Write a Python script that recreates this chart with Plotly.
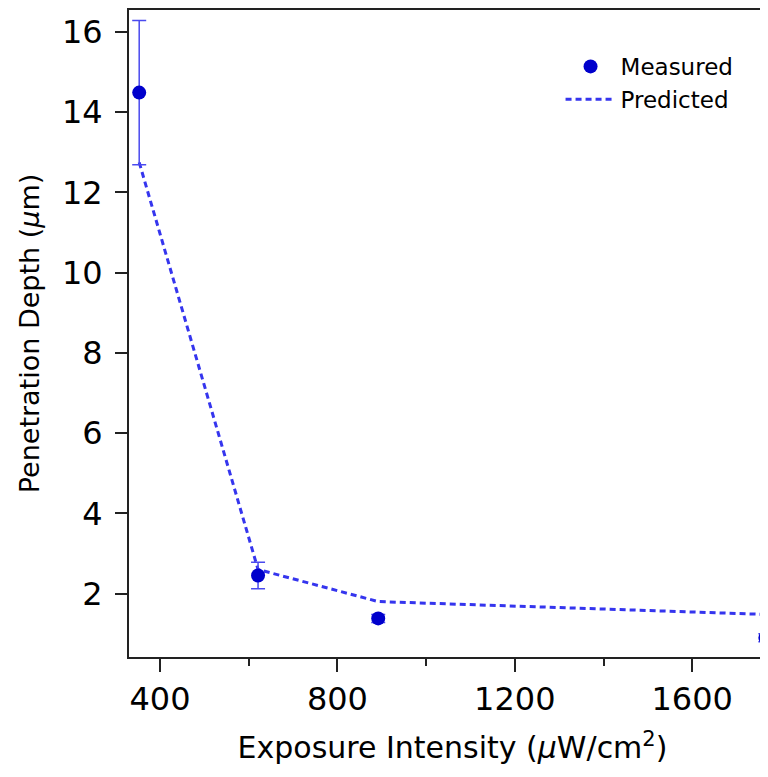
import plotly.graph_objects as go

# Measured data
meas_x = [353, 621, 892, 1765]
meas_y = [14.49, 2.45, 1.38, 0.90]
meas_err = [1.8, 0.33, 0.10, 0.10]

# Predicted data
pred_x = [353, 621, 892, 1765]
pred_y = [12.75, 2.60, 1.80, 1.48]

x_ticks = [400, 800, 1200, 1600]
y_ticks = [2, 4, 6, 8, 10, 12, 14, 16]

FONT = "DejaVu Sans"

fig = go.Figure()

fig.add_trace(go.Scatter(
    x=pred_x, y=pred_y, mode="lines", name="Predicted",
    line=dict(color="#3535EE", width=3, dash="6px,4px"),
    legendrank=2,
))
fig.add_trace(go.Scatter(
    x=meas_x, y=meas_y, mode="markers", name="Measured",
    marker=dict(color="#0000CC", size=14),
    error_y=dict(type="data", array=meas_err, visible=True,
                 color="#4A4AEE", thickness=1.5, width=7),
    legendrank=1,
))

fig.update_layout(
    width=768, height=761,
    margin=dict(l=121, r=0, t=2, b=112),
    paper_bgcolor="white", plot_bgcolor="white",
    font=dict(family=FONT, color="black"),
    showlegend=True,
    legend=dict(x=0.667, y=0.946, xanchor="left", yanchor="top",
                font=dict(size=23, family=FONT), bgcolor="rgba(0,0,0,0)",
                itemwidth=50, tracegroupgap=0),
    xaxis=dict(
        range=[330, 1789], tickvals=x_ticks, ticks="outside", ticklen=13,
        tickwidth=2, tickcolor="#222", showline=True, linecolor="#222",
        linewidth=2, mirror=True, showgrid=False, zeroline=False,
        automargin=False,
        tickfont=dict(size=32, family=FONT),
        minor=dict(dtick=200, tick0=400, ticks="outside", ticklen=7,
                   tickwidth=2, tickcolor="#222", showgrid=False),
        title=dict(text="Exposure Intensity (<i>μ</i>W/cm<sup>2</sup>)",
                   font=dict(size=30, family=FONT), standoff=20),
    ),
    yaxis=dict(
        range=[0.418, 16.55], tickvals=y_ticks, ticks="outside", ticklen=12,
        tickwidth=2, tickcolor="#222", showline=True, linecolor="#222",
        linewidth=2, mirror=False, showgrid=False, zeroline=False,
        automargin=False,
        tickfont=dict(size=32, family=FONT), ticklabelstandoff=6,
        title=dict(text="Penetration Depth (<i>μ</i>m)",
                   font=dict(size=27, family=FONT), standoff=14),
    ),
)

fig.write_html("out.html")
